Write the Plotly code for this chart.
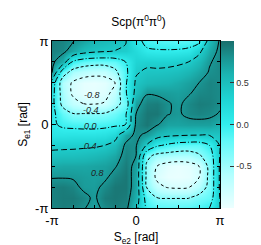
import numpy as np
import plotly.graph_objects as go

PI = np.pi

# grid positions (S_e2 along x, S_e1 along y), 17 nodes from -pi to pi
x_nodes = np.linspace(-PI, PI, 17)
y_nodes = np.linspace(PI, -PI, 17)  # top row first

# Scp values, rows from y = +pi (top) down to y = -pi
row_00 = [0.92, 0.88, 0.81, 0.70, 0.60, 0.55, 0.50, 0.42, 0.10, -0.08, -0.12, -0.15, -0.16, -0.15, -0.10, 0.55, 0.83]
row_01 = [0.90, 0.86, 0.68, 0.52, 0.45, 0.41, 0.39, 0.36, 0.22, 0.05, 0.03, 0.03, 0.04, 0.08, 0.33, 0.67, 0.86]
row_02 = [0.86, 0.62, -0.05, -0.20, -0.25, -0.25, -0.20, 0.00, 0.30, 0.33, 0.32, 0.32, 0.35, 0.40, 0.55, 0.78, 0.87]
row_03 = [0.82, -0.20, -0.55, -0.65, -0.70, -0.70, -0.50, -0.10, 0.37, 0.45, 0.45, 0.47, 0.50, 0.58, 0.68, 0.82, 0.86]
row_04 = [0.25, -0.60, -0.84, -0.95, -0.97, -0.93, -0.80, -0.05, 0.45, 0.55, 0.58, 0.60, 0.65, 0.72, 0.80, 0.88, 0.85]
row_05 = [0.15, -0.55, -0.85, -0.95, -0.95, -0.90, -0.70, -0.05, 0.50, 0.78, 0.76, 0.74, 0.72, 0.78, 0.86, 0.88, 0.85]
row_06 = [0.12, -0.50, -0.70, -0.80, -0.82, -0.78, -0.55, -0.25, 0.72, 0.90, 0.92, 0.82, 0.76, 0.86, 0.92, 0.90, 0.84]
row_07 = [0.10, -0.20, -0.38, -0.38, -0.38, -0.36, -0.25, -0.05, 0.80, 0.95, 0.95, 0.81, 0.77, 0.85, 0.88, 0.85, 0.78]
row_08 = [0.05, -0.05, -0.08, -0.10, -0.10, -0.08, -0.05, 0.00, 0.85, 0.95, 0.82, 0.70, 0.70, 0.72, 0.72, 0.72, 0.62]
row_09 = [0.12, 0.12, 0.13, 0.13, 0.13, 0.15, 0.25, 0.68, 0.85, 0.75, 0.55, 0.47, 0.44, 0.42, 0.41, 0.42, 0.45]
row_10 = [0.33, 0.33, 0.34, 0.35, 0.36, 0.40, 0.52, 0.84, 0.82, 0.38, 0.05, -0.06, -0.15, -0.18, -0.18, 0.00, 0.42]
row_11 = [0.48, 0.50, 0.50, 0.52, 0.55, 0.60, 0.68, 0.88, 0.80, -0.30, -0.50, -0.55, -0.58, -0.58, -0.45, -0.20, 0.42]
row_12 = [0.65, 0.68, 0.68, 0.68, 0.70, 0.72, 0.78, 0.92, 0.72, -0.45, -0.80, -0.93, -0.97, -0.93, -0.80, -0.30, 0.45]
row_13 = [0.78, 0.78, 0.77, 0.74, 0.72, 0.75, 0.88, 0.95, 0.68, -0.45, -0.88, -0.97, -0.98, -0.95, -0.82, -0.30, 0.45]
row_14 = [0.90, 0.92, 0.88, 0.75, 0.74, 0.85, 0.95, 0.95, 0.68, -0.40, -0.70, -0.82, -0.85, -0.82, -0.62, -0.30, 0.45]
row_15 = [0.90, 0.93, 0.93, 0.87, 0.76, 0.92, 0.95, 0.92, 0.62, -0.15, -0.40, -0.42, -0.42, -0.42, -0.30, -0.20, 0.42]
row_16 = [0.88, 0.92, 0.90, 0.82, 0.72, 0.85, 0.92, 0.88, 0.50, -0.05, -0.15, -0.18, -0.18, -0.15, -0.10, 0.00, 0.40]

z_rows = [row_00, row_01, row_02, row_03, row_04, row_05, row_06, row_07, row_08,
          row_09, row_10, row_11, row_12, row_13, row_14, row_15, row_16]

contour_levels = [-0.8, -0.4, 0.0, 0.4, 0.8]
contour_labels = ["-0.8", "-0.4", "0.0", "0.4", "0.8"]
contour_dashes = ["dot", "3px,2px", "6px,2px,1px,2px", "6px,3px", "solid"]

cbar_vals = [-0.5, 0.0, 0.5]
cbar_text = ["-0.5", "0.0", "0.5"]

# label anchor points (data coords) for the inline contour labels
label_x = [-1.63, -1.70, -1.70, -1.70, -1.44]
label_y = [1.11, 0.55, -0.06, -0.81, -1.83]

z = np.array(z_rows[::-1])
yy = y_nodes[::-1]

colorscale = [
    [0.00, "#ecffff"],
    [0.20, "#b2ffff"],
    [0.40, "#62f9f9"],
    [0.50, "#32eeee"],
    [0.65, "#1fd4d4"],
    [0.80, "#1bb4b2"],
    [0.90, "#1a9492"],
    [1.00, "#1a6e6c"],
]

fig = go.Figure()
fig.add_trace(go.Heatmap(
    x=x_nodes, y=yy, z=z, zmin=-1, zmax=1, zsmooth="best",
    colorscale=colorscale,
    colorbar=dict(
        thickness=13, len=1, lenmode="fraction", x=1.008, xanchor="left",
        y=0.5, yanchor="middle", xpad=0, ypad=0, outlinewidth=0,
        tickvals=cbar_vals, ticktext=cbar_text, ticks="inside", ticklen=4,
        tickcolor="#333333", tickfont=dict(size=9, color="#333333"),
    ),
))

for lv, dash in zip(contour_levels, contour_dashes):
    fig.add_trace(go.Contour(
        x=x_nodes, y=yy, z=z,
        contours=dict(start=lv, end=lv, size=1, coloring="none"),
        line=dict(color="black", width=1, dash=dash, smoothing=1.0),
        showscale=False, hoverinfo="skip",
    ))

for lx, ly, txt in zip(label_x, label_y, contour_labels):
    fig.add_annotation(x=lx, y=ly, text="<i>" + txt + "</i>", showarrow=False,
                       font=dict(size=9, color="#222222"))

minor_vals = [-3 * PI / 4, -PI / 2, -PI / 4, PI / 4, PI / 2, 3 * PI / 4]
axis_common = dict(
    range=[-PI, PI], tickvals=[-PI, 0, PI], ticktext=["-π", "0", "π"],
    ticks="inside", ticklen=4, tickcolor="black", showline=True,
    linecolor="black", linewidth=1, mirror="allticks", showgrid=False,
    zeroline=False, tickfont=dict(size=13, color="black"),
    minor=dict(tickvals=minor_vals, ticks="inside", ticklen=3, tickcolor="black"),
)
fig.update_xaxes(**axis_common, title=dict(text="S<sub>e2</sub> [rad]",
                 font=dict(size=12, color="black"), standoff=6))
fig.update_yaxes(**axis_common, title=dict(text="S<sub>e1</sub> [rad]",
                 font=dict(size=12, color="black"), standoff=4))

fig.update_layout(
    width=261, height=245,
    margin=dict(l=44, r=47, t=33, b=45),
    paper_bgcolor="white", plot_bgcolor="white",
    font=dict(family="Liberation Sans, Arial, sans-serif", color="black"),
    title=dict(text="Scp(π<sup>0</sup>π<sup>0</sup>)", x=0.5, xanchor="center",
               y=0.945, yanchor="middle", font=dict(size=12, color="black")),
    showlegend=False,
)

fig.write_html("out.html")
